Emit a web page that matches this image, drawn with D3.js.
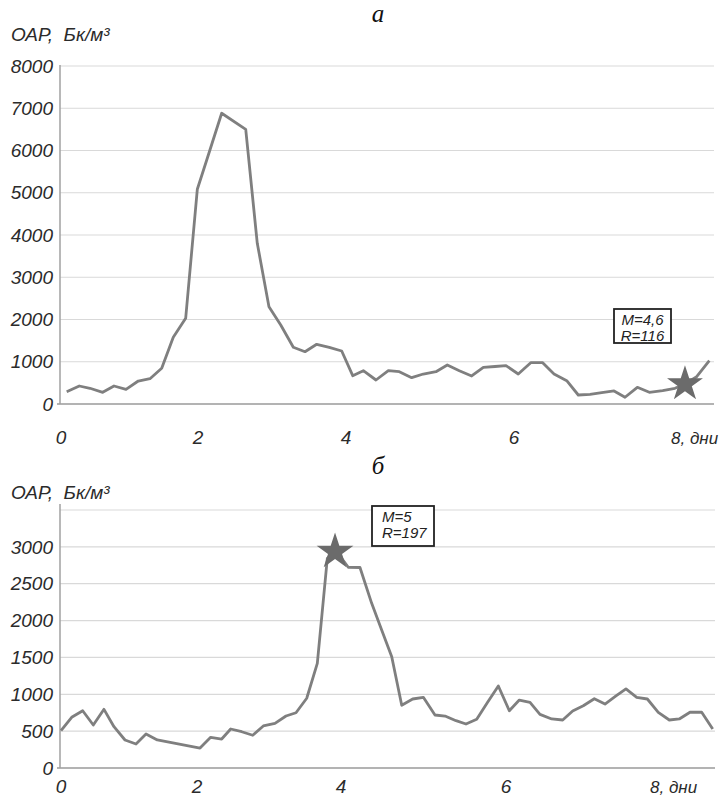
<!DOCTYPE html>
<html>
<head>
<meta charset="utf-8">
<script src="https://cdn.jsdelivr.net/npm/d3@7"></script>
<style>
  body { margin: 0; background: #fff; }
  text { font-family: "Liberation Sans", Arial, sans-serif; font-style: italic; fill: #2b2b2b; }
  .title { font-family: "Liberation Serif", "DejaVu Serif", serif; font-size: 25px; fill: #111; }
</style>
</head>
<body>
<div id="chart"></div>
<script>
// panel a: days and OAR values (Bq/m3)
const topDays = [0.083,0.267,0.423,0.609,0.774,0.949,1.128,1.299,1.470,1.639,1.820,1.990,2.118,2.320,2.645,2.801,2.959,3.118,3.288,3.446,3.604,3.774,3.942,4.080,4.206,4.357,4.504,4.635,4.782,4.920,5.071,5.206,5.349,5.496,5.635,5.774,5.905,6.052,6.204,6.350,6.488,6.643,6.784,6.927,7.070,7.220,7.354,7.504,7.650,7.813,7.963,8.085,8.228,8.382];
const topValues = [291,426,372,277,426,348,544,599,845,1579,2028,5082,5775,6881,6502,3804,2303,1870,1342,1238,1413,1342,1254,670,788,568,788,765,623,710,765,923,788,663,869,888,907,710,978,978,710,552,213,230,267,308,159,395,277,315,372,473,646,1025];
const topYTicks = [0,1000,2000,3000,4000,5000,6000,7000,8000];
const topStar = { day: 8.085, value: 473 };
const topNote = ["M=4,6", "R=116"];

// panel б
const bottomDays = [0,0.157,0.319,0.475,0.632,0.779,0.941,1.103,1.250,1.416,2.042,2.190,2.343,2.468,2.621,2.774,2.921,3.083,3.236,3.375,3.524,3.671,3.810,3.917,4.008,4.088,4.230,4.372,4.493,4.615,4.736,4.869,4.998,5.139,5.261,5.394,5.515,5.645,5.773,5.907,6.044,6.176,6.318,6.450,6.605,6.751,6.883,7.024,7.170,7.311,7.457,7.589,7.731,7.872,8.017,8.163,8.295,8.437,8.592,8.738];
const bottomValues = [506,688,777,583,796,560,380,326,461,380,271,416,393,529,492,444,570,606,705,750,946,1420,2845,2934,2845,2723,2720,2234,1872,1510,851,936,959,719,705,642,597,661,886,1112,777,922,891,728,665,651,773,845,940,868,977,1072,959,936,756,651,665,756,756,529];
const bottomYTicks = [0,500,1000,1500,2000,2500,3000,3500];
const bottomStar = { day: 3.917, value: 2934 };
const bottomNote = ["M=5", "R=197"];

const xTicks = [0, 2, 4, 6, 8];

const svg = d3.select("#chart").append("svg")
    .attr("width", 719)
    .attr("height", 798);

function drawPanel(cfg) {
    const g = svg.append("g");

    // scanned original has uneven day spacing, so the scale follows its tick positions
    const x = d3.scaleLinear().domain(xTicks).range(cfg.xRange);
    const y = d3.scaleLinear().domain(cfg.yDomain).range(cfg.yRange);

    // gridlines
    g.selectAll(".grid")
        .data(cfg.yTicks.filter(d => d > 0))
        .enter().append("line")
        .attr("x1", cfg.left).attr("x2", cfg.right)
        .attr("y1", d => y(d)).attr("y2", d => y(d))
        .attr("stroke", "#d9d9d9")
        .attr("stroke-width", 1.2);

    // baseline + y axis line
    g.append("line")
        .attr("x1", cfg.left - 3).attr("x2", cfg.right)
        .attr("y1", y(0)).attr("y2", y(0))
        .attr("stroke", "#9a9a9a").attr("stroke-width", 1.5);
    g.append("line")
        .attr("x1", cfg.left).attr("x2", cfg.left)
        .attr("y1", cfg.axisTop).attr("y2", y(0))
        .attr("stroke", "#a0a0a0").attr("stroke-width", 1.5);

    // y tick labels
    g.selectAll(".ylab")
        .data(cfg.yTicks.filter(d => d <= cfg.maxLabel))
        .enter().append("text")
        .attr("x", cfg.left - 7)
        .attr("y", d => y(d))
        .attr("dy", "0.35em")
        .attr("text-anchor", "end")
        .style("font-size", "19px")
        .text(d => d);

    // x tick labels
    g.selectAll(".xlab")
        .data(xTicks)
        .enter().append("text")
        .attr("x", d => x(d))
        .attr("dx", d => d === 8 ? -7 : 0)
        .attr("y", cfg.xLabelY)
        .attr("text-anchor", d => d === 8 ? "start" : "middle")
        .style("font-size", d => d === 8 ? "17px" : "19px")
        .text(d => d === 8 ? "8, дни" : d);

    // axis title
    g.append("text")
        .attr("x", 11)
        .attr("y", cfg.titleY)
        .style("font-size", "19px")
        .style("white-space", "pre")
        .text("ОАР,  Бк/м³");

    // panel letter
    g.append("text")
        .attr("class", "title")
        .attr("x", 378)
        .attr("y", cfg.letterY)
        .attr("text-anchor", "middle")
        .text(cfg.letter);

    // series
    const pts = cfg.days.map((d, i) => [d, cfg.values[i]]);
    g.append("path")
        .datum(pts)
        .attr("fill", "none")
        .attr("stroke", "#7f7f7f")
        .attr("stroke-width", 2.8)
        .attr("stroke-linejoin", "round")
        .attr("d", d3.line().x(d => x(d[0])).y(d => y(d[1])));

    // star marker
    g.append("path")
        .attr("d", d3.symbol(d3.symbolStar, cfg.starSize)())
        .attr("transform", `translate(${x(cfg.star.day)},${y(cfg.star.value)})`)
        .attr("fill", "#6b6b6b");

    // note box
    const nb = cfg.note;
    g.append("rect")
        .attr("x", nb.x).attr("y", nb.y)
        .attr("width", nb.w).attr("height", nb.h)
        .attr("fill", "#fff")
        .attr("stroke", "#222")
        .attr("stroke-width", 1.8);
    g.selectAll(".note")
        .data(cfg.noteLines)
        .enter().append("text")
        .attr("x", nb.anchor === "middle" ? nb.x + nb.w / 2 : nb.x + 10)
        .attr("y", (d, i) => nb.y + 16 + i * 16)
        .attr("text-anchor", nb.anchor)
        .style("font-size", "15px")
        .style("fill", "#222")
        .text(d => d);
}

drawPanel({
    letter: "а", letterY: 22, titleY: 41,
    xRange: [61, 198, 346, 514, 678],
    yDomain: [0, 8000], yRange: [404, 66],
    yTicks: topYTicks, maxLabel: 8000,
    left: 60, right: 714, axisTop: 65, xLabelY: 444,
    days: topDays, values: topValues,
    star: topStar, starSize: 400,
    note: { x: 614, y: 309, w: 57, h: 34, anchor: "middle" },
    noteLines: topNote
});

drawPanel({
    letter: "б", letterY: 474, titleY: 499,
    xRange: [61, 197, 341, 506, 657],
    yDomain: [0, 3500], yRange: [768, 510],
    yTicks: bottomYTicks, maxLabel: 3000,
    left: 60, right: 715, axisTop: 504, xLabelY: 793,
    days: bottomDays, values: bottomValues,
    star: bottomStar, starSize: 420,
    note: { x: 372, y: 506, w: 62, h: 40, anchor: "start" },
    noteLines: bottomNote
});
</script>
</body>
</html>
